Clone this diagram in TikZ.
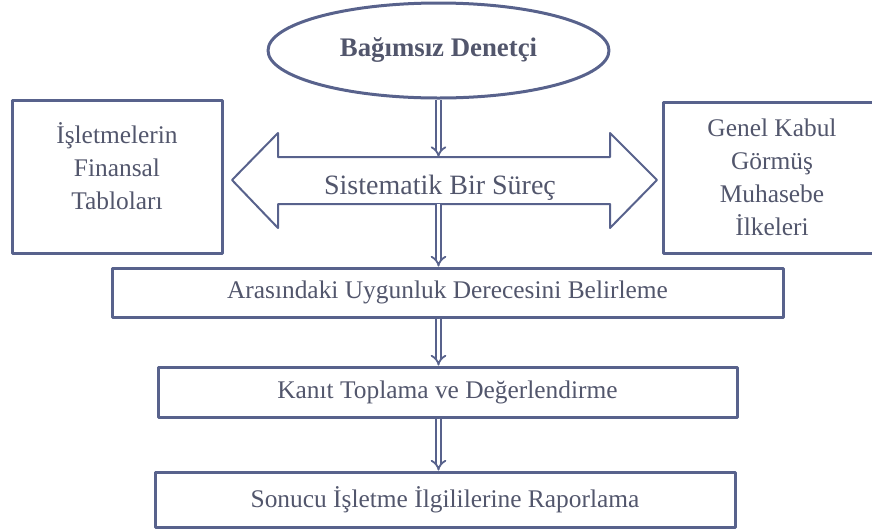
\documentclass[tikz,border=0pt]{standalone}
\usepackage{fontspec}
\setmainfont{Liberation Serif}
\usetikzlibrary{shapes.geometric,arrows.meta}
\definecolor{lineclr}{RGB}{88,98,140}
\definecolor{textclr}{RGB}{82,86,108}

\begin{document}
\begin{tikzpicture}[x=.5pt,y=-.5pt,line join=round,
  every node/.style={text=textclr,font=\fontsize{12.7}{16.5}\selectfont},
  kutu/.style={draw=lineclr,line width=1.5pt,inner sep=0pt},
  okcizgi/.style={draw=lineclr,line width=.9pt,double,double distance=1.7pt,
    -{Implies[scale=2.8]}}]
  % the frame of the scan; the right box runs off its edge
  \useasboundingbox (0,0) rectangle (872,531);
  \clip (0,0) rectangle (872,531);
  \node[kutu,ellipse,minimum width=170.5pt,minimum height=47.5pt,
    font=\fontsize{13.4}{16}\selectfont\bfseries] (denetci) at (438.5,50.5)
    {Bağımsız Denetçi};
  % two-headed block arrow
  \draw[lineclr,line width=1pt] (232,180) -- (278,133) -- (278,157) -- (610,157)
    -- (610,133) -- (657,180) -- (610,228) -- (610,204) -- (278,204) -- (278,228)
    -- cycle;
  \coordinate (govdeust) at (438.5,157);
  \coordinate (govdealt) at (438.5,204);
  \node[font=\fontsize{14}{16}\selectfont] (surec) at (440,188) {Sistematik Bir Süreç};
  \node[kutu,minimum width=105pt,minimum height=76.5pt] (tablo) at (117,176.5) {};
  \node[align=center] (tablotxt) at (117,166.5) {İşletmelerin\\Finansal\\Tabloları};
  \node[kutu,align=center,minimum width=109pt,minimum height=75.5pt] (ilke)
    at (772,177.5) {Genel Kabul\\Görmüş\\Muhasebe\\İlkeleri};
  \node[kutu,minimum width=335.5pt,minimum height=24.5pt] (belirle) at (447.5,292.5)
    {Arasındaki Uygunluk Derecesini Belirleme};
  \node[kutu,minimum width=289.5pt,minimum height=25pt] (kanit) at (447.5,392)
    {Kanıt Toplama ve Değerlendirme};
  \node[kutu,minimum width=290pt,minimum height=27.5pt] (rapor) at (445,499.5)
    {Sonucu İşletme İlgililerine Raporlama};
  \draw[okcizgi] (denetci.south) -- (govdeust);
  \draw[okcizgi] (govdealt) -- (govdealt |- belirle.north);
  \draw[okcizgi] (govdealt |- belirle.south) -- (govdealt |- kanit.north);
  \draw[okcizgi] (govdealt |- kanit.south) -- (govdealt |- rapor.north);
\end{tikzpicture}
\end{document}
